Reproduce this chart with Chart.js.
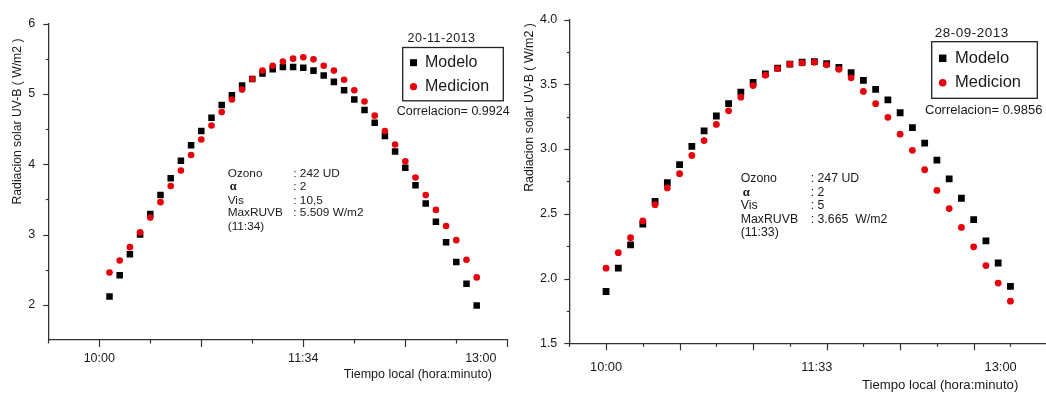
<!DOCTYPE html>
<html>
<head>
<meta charset="utf-8">
<script src="https://cdn.jsdelivr.net/npm/chart.js@4.4.0/dist/chart.umd.min.js"></script>
<style>
  html, body { margin:0; padding:0; background:#fff; overflow:hidden; width:1046px; height:394px; }
  #c1 { position:absolute; left:0; top:0; }
  #c2 { position:absolute; left:520px; top:0; }
</style>
</head>
<body>
<canvas id="c1" width="520" height="394"></canvas>
<canvas id="c2" width="532" height="394"></canvas>
<script>
// ---------- DATA ----------
// Left chart (20-11-2013): x position along time axis (axis units; 10:00 = 0)
const leftX = [5,10,15,20,25,30,35,40,45,50,55,60,65,70,75,80,85,90,95,100,105,110,115,120,125,130,135,140,145,150,155,160,165,170,175,180,185];
const leftModelo = [2.12,2.42,2.72,3.00,3.29,3.56,3.80,4.05,4.27,4.47,4.66,4.84,4.98,5.12,5.21,5.29,5.35,5.38,5.38,5.37,5.33,5.26,5.17,5.05,4.92,4.77,4.59,4.40,4.18,3.95,3.70,3.44,3.18,2.89,2.61,2.30,1.99];
const leftMedicion = [2.46,2.63,2.82,3.03,3.24,3.46,3.69,3.91,4.13,4.35,4.55,4.74,4.92,5.06,5.21,5.33,5.40,5.46,5.50,5.52,5.49,5.40,5.33,5.20,5.05,4.89,4.69,4.47,4.28,4.04,3.81,3.56,3.35,3.12,2.92,2.64,2.39];
const leftTickValues = [0, 100, 187];
const leftTickLabels = ['10:00', '11:34', '13:00'];
const leftYTicks = [2, 3, 4, 5, 6];
const leftXMajor = [0, 50, 100, 150, 200];
const leftXMinor = [-25, 25, 75, 125, 175];
const leftYMinor = [2.5, 3.5, 4.5, 5.5];

// Right chart (28-09-2013)
const rightX = [0,5,10,15,20,25,30,35,40,45,50,55,60,65,70,75,80,85,90,95,100,105,110,115,120,125,130,135,140,145,150,155,160,165];
const rightModelo = [1.90,2.08,2.26,2.42,2.595,2.74,2.88,3.02,3.14,3.255,3.35,3.44,3.515,3.58,3.625,3.655,3.67,3.675,3.66,3.63,3.59,3.53,3.46,3.38,3.28,3.165,3.045,2.915,2.77,2.62,2.455,2.29,2.12,1.94];
const rightMedicion = [2.08,2.20,2.315,2.445,2.57,2.70,2.81,2.95,3.065,3.19,3.295,3.40,3.49,3.57,3.62,3.655,3.665,3.67,3.65,3.615,3.55,3.445,3.35,3.245,3.115,2.99,2.84,2.68,2.54,2.395,2.245,2.10,1.965,1.825];
const rightTickValues = [0, 86, 161];
const rightTickLabels = ['10:00', '11:33', '13:00'];
const rightYTicks = [1.5, 2.0, 2.5, 3.0, 3.5, 4.0];
const rightXMajor = [0, 30, 60, 90, 120, 150, 180];
const rightXMinor = [-15, 15, 45, 75, 105, 135, 165];
const rightYMinor = [1.75, 2.25, 2.75, 3.25, 3.75];

const FONT = "'Liberation Sans', Arial, sans-serif";
const TXT = '#1a1a1a';
const AXC = '#333';
const RED = '#e8000b';

// ---------- PLUGIN: ticks, titles, legend, annotations ----------
const deco = {
  id: 'deco',
  afterDraw(chart) {
    const c = chart.options.plugins.deco;
    const ctx = chart.ctx;
    const xs = chart.scales.x, ys = chart.scales.y;
    const area = chart.chartArea;
    ctx.save();
    // tick marks
    ctx.strokeStyle = AXC;
    ctx.lineWidth = 1.2;
    const vline = (v, len) => { const p = Math.round(xs.getPixelForValue(v)) + 0.5; ctx.beginPath(); ctx.moveTo(p, area.bottom); ctx.lineTo(p, area.bottom + len); ctx.stroke(); };
    const hline = (v, len) => { const p = Math.round(ys.getPixelForValue(v)) + 0.5; ctx.beginPath(); ctx.moveTo(area.left, p); ctx.lineTo(area.left - len, p); ctx.stroke(); };
    c.xMajor.forEach(v => vline(v, 7));
    c.xMinor.forEach(v => vline(v, 3.5));
    c.yMajor.forEach(v => hline(v, 5));
    c.yMinor.forEach(v => hline(v, 2.5));

    ctx.fillStyle = TXT;
    // y title
    ctx.save();
    ctx.translate(c.yTitle.x, c.yTitle.y);
    ctx.rotate(-Math.PI / 2);
    ctx.font = c.yTitle.size + 'px ' + FONT;
    ctx.textAlign = 'center'; ctx.textBaseline = 'middle';
    ctx.fillText('Radiacion solar UV-B ( W/m2 )', 0, 0);
    ctx.restore();
    // x title
    ctx.font = c.xTitle.size + 'px ' + FONT;
    ctx.textAlign = 'right'; ctx.textBaseline = 'middle';
    ctx.fillText('Tiempo local (hora:minuto)', c.xTitle.x, c.xTitle.y);

    // legend
    const L = c.legend;
    ctx.font = L.dateSize + 'px ' + FONT;
    ctx.textAlign = 'center';
    if (ctx.letterSpacing !== undefined) ctx.letterSpacing = '0.5px';
    ctx.fillText(L.date, L.dateX, L.dateY);
    if (ctx.letterSpacing !== undefined) ctx.letterSpacing = '0px';
    ctx.strokeStyle = '#222'; ctx.lineWidth = 1.3;
    ctx.strokeRect(L.bx, L.by, L.bw, L.bh);
    ctx.fillStyle = '#000';
    ctx.fillRect(L.mx - L.sq / 2, L.y1 - L.sq / 2, L.sq, L.sq);
    ctx.fillStyle = RED;
    ctx.beginPath(); ctx.arc(L.mx, L.y2, L.r, 0, Math.PI * 2); ctx.fill();
    ctx.fillStyle = TXT;
    ctx.font = L.size + 'px ' + FONT;
    ctx.textAlign = 'left';
    ctx.fillText('Modelo', L.tx, L.y1);
    ctx.fillText('Medicion', L.tx, L.y2);
    ctx.font = L.corrSize + 'px ' + FONT;
    ctx.fillText(L.corr, L.cx, L.cy);

    // annotation block
    const A = c.annot;
    ctx.font = A.size + 'px ' + FONT;
    A.rows.forEach((r, i) => {
      const y = A.ys[i];
      if (r[0] === 'α') {
        ctx.font = 'bold ' + (A.size + 0.5) + 'px "Liberation Serif", serif';
        ctx.fillText(r[0], A.x1 + 2, y);
        ctx.font = A.size + 'px ' + FONT;
      } else {
        ctx.fillText(r[0], A.x1, y);
      }
      if (r[1]) ctx.fillText(r[1], A.x2, y);
    });
    ctx.restore();
  }
};

function makeChart(id, cfg) {
  const ctx = document.getElementById(id);
  return new Chart(ctx, {
    type: 'scatter',
    data: {
      datasets: [
        { label: 'Medicion', data: cfg.x.map((v, i) => ({ x: v, y: cfg.med[i] })), pointStyle: 'circle',
          pointRadius: cfg.rc, pointHoverRadius: cfg.rc, backgroundColor: RED, borderColor: RED, borderWidth: 0, order: 0 },
        { label: 'Modelo', data: cfg.x.map((v, i) => ({ x: v, y: cfg.mod[i] })), pointStyle: 'rect',
          pointRadius: cfg.rs, pointHoverRadius: cfg.rs, backgroundColor: '#000', borderColor: '#000', borderWidth: 0, order: 1 }
      ]
    },
    options: {
      responsive: false,
      animation: false,
      devicePixelRatio: 1,
      layout: { padding: cfg.pad },
      plugins: { legend: { display: false }, tooltip: { enabled: false }, deco: cfg.deco },
      scales: {
        x: {
          type: 'linear', min: cfg.xmin, max: cfg.xmax,
          afterFit: s => { s.height = cfg.xh; },
          afterBuildTicks: s => { s.ticks = cfg.xtv.map(v => ({ value: v })); },
          grid: { display: true, drawOnChartArea: false, drawTicks: false },
          border: { display: true, color: AXC, width: 1.3 },
          ticks: { autoSkip: false, maxRotation: 0, padding: cfg.xpad, color: TXT,
                   font: { family: FONT, size: cfg.xfs },
                   callback: (v, i) => cfg.xtl[i] }
        },
        y: {
          type: 'linear', min: cfg.ymin, max: cfg.ymax,
          afterFit: s => { s.width = cfg.yw; },
          afterBuildTicks: s => { s.ticks = cfg.ytv.map(v => ({ value: v })); },
          grid: { display: true, drawOnChartArea: false, drawTicks: false },
          border: { display: true, color: AXC, width: 1.3 },
          ticks: { autoSkip: false, padding: cfg.ypad, color: TXT,
                   font: { family: FONT, size: cfg.yfs },
                   callback: v => cfg.yfmt(v) }
        }
      }
    },
    plugins: [deco]
  });
}

makeChart('c1', {
  x: leftX, mod: leftModelo, med: leftMedicion,
  rs: 4.6, rc: 3.3,
  pad: { left: 0, top: 23.5, right: 12.7, bottom: 0 },
  xmin: -25, xmax: 200, xh: 54, xtv: leftTickValues, xtl: leftTickLabels, xpad: 11, xfs: 12.5,
  ymin: 1.5, ymax: 6, yw: 48.3, ytv: leftYTicks, ypad: 13, yfs: 12.5, yfmt: v => String(v),
  deco: {
    xMajor: leftXMajor, xMinor: leftXMinor, yMajor: leftYTicks, yMinor: leftYMinor,
    yTitle: { x: 17.5, y: 121.5, size: 12.2 },
    xTitle: { x: 492, y: 375, size: 12.5 },
    legend: { date: '20-11-2013', dateX: 441.5, dateY: 38.5, dateSize: 12.5,
              bx: 402.7, by: 47.5, bw: 100.6, bh: 53.3,
              mx: 413.5, sq: 7, r: 3.6, y1: 62.7, y2: 86.7, tx: 425, size: 16,
              corr: 'Correlacion= 0.9924', cx: 396.7, cy: 111.7, corrSize: 12.5 },
    annot: { size: 11.8, x1: 227.7, x2: 293.3, ys: [174, 187, 200.5, 213, 226.3],
             rows: [['Ozono', ': 242 UD'], ['α', ': 2'], ['Vis', ': 10,5'], ['MaxRUVB', ': 5.509 W/m2'], ['(11:34)', '']] }
  }
});

makeChart('c2', {
  x: rightX, mod: rightModelo, med: rightMedicion,
  rs: 4.8, rc: 3.4,
  pad: { left: 0, top: 11.5, right: 2, bottom: 0 },
  xmin: -15, xmax: 180, xh: 50.7, xtv: rightTickValues, xtl: rightTickLabels, xpad: 16, xfs: 12.8,
  ymin: 1.5, ymax: 4.0, yw: 49.3, ytv: rightYTicks, ypad: 12, yfs: 12.5, yfmt: v => v.toFixed(1),
  deco: {
    xMajor: rightXMajor, xMinor: rightXMinor, yMajor: rightYTicks, yMinor: rightYMinor,
    yTitle: { x: 10, y: 107.5, size: 12.4 },
    xTitle: { x: 498.3, y: 385, size: 13.2 },
    legend: { date: '28-09-2013', dateX: 451.7, dateY: 33.3, dateSize: 13.5,
              bx: 411.7, by: 41.7, bw: 105.6, bh: 56.6,
              mx: 422.7, sq: 7.5, r: 3.8, y1: 58.3, y2: 82.7, tx: 435, size: 16.5,
              corr: 'Correlacion= 0.9856', cx: 405, cy: 110, corrSize: 13 },
    annot: { size: 12.3, x1: 220.7, x2: 290.7, ys: [178.3, 192.3, 205.7, 219.3, 232.7],
             rows: [['Ozono', ': 247 UD'], ['α', ': 2'], ['Vis', ': 5'], ['MaxRUVB', ': 3.665  W/m2'], ['(11:33)', '']] }
  }
});
</script>
</body>
</html>
